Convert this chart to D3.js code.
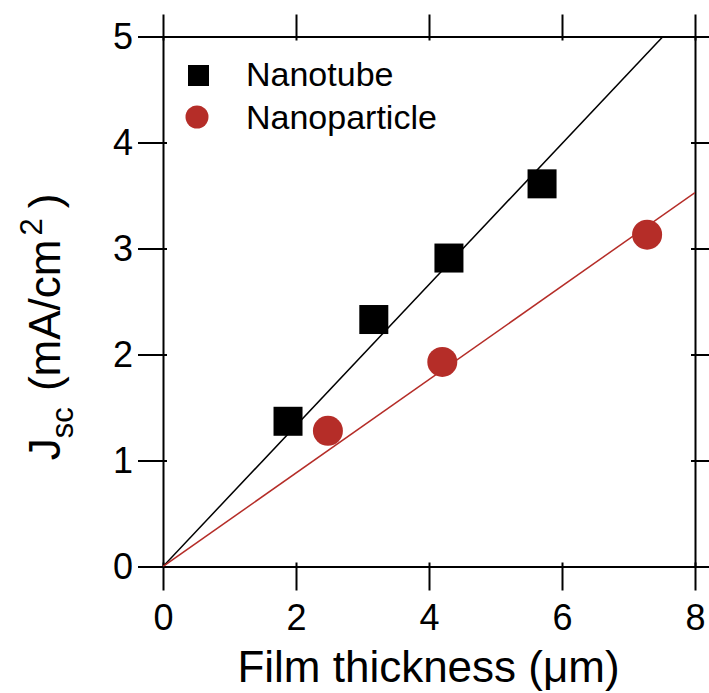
<!DOCTYPE html>
<html><head><meta charset="utf-8">
<script src="https://cdn.jsdelivr.net/npm/d3@7"></script>
<style>
body{margin:0;background:#fff;}
text{font-family:"Liberation Sans",Arial,Helvetica,sans-serif;fill:#000;}
</style></head>
<body><svg id="c" width="709" height="693"></svg>
<script>
const seriesNames = ["Nanotube", "Nanoparticle"];
const seriesColors = ["#000000", "#b52d28"];
const nanotubeX = [1.88, 3.17, 4.30, 5.70];
const nanotubeY = [1.37, 2.33, 2.91, 3.61];
const nanoparticleX = [2.48, 4.20, 7.28];
const nanoparticleY = [1.28, 1.93, 3.13];
const fitSlopes = [0.665, 0.441];
const xTicks = [0, 2, 4, 6, 8];
const yTicks = [0, 1, 2, 3, 4, 5];
const xTitle = "Film thickness (\u03bcm)";

const svg = d3.select("#c");
const L = 163, R = 695, T = 36.5, B = 566.5;
const x = d3.scaleLinear().domain([0, 8]).range([L, R]);
const y = d3.scaleLinear().domain([0, 5]).range([B, T]);
const TS = 24, IN = 4;

svg.append("defs").append("clipPath").attr("id", "clip")
  .append("rect").attr("x", L).attr("y", T).attr("width", R - L).attr("height", B - T);

function styleAxis(g, inwardAttr, inwardSign) {
  g.select(".domain").attr("stroke", "#000").attr("stroke-width", 2);
  g.selectAll(".tick line").attr("stroke", "#000").attr("stroke-width", 2)
    .attr(inwardAttr, inwardSign * IN);
  g.selectAll("text").style("font-size", "36px").attr("fill", "#000");
}

// bottom
const gb = svg.append("g").attr("transform", `translate(0,${B})`)
  .call(d3.axisBottom(x).tickValues(xTicks).tickSize(TS).tickSizeOuter(0).tickPadding(14).tickFormat(d3.format("d")));
styleAxis(gb, "y1", -1);
// top
const gt = svg.append("g").attr("transform", `translate(0,${T})`)
  .call(d3.axisTop(x).tickValues(xTicks).tickSize(TS - 2).tickSizeOuter(0).tickFormat(""));
styleAxis(gt, "y1", 1);
// left
const gl = svg.append("g").attr("transform", `translate(${L},0)`)
  .call(d3.axisLeft(y).tickValues(yTicks).tickSize(TS + 1).tickSizeOuter(0).tickPadding(5).tickFormat(d3.format("d")));
styleAxis(gl, "x1", 1);
// right
const gr = svg.append("g").attr("transform", `translate(${R},0)`)
  .call(d3.axisRight(y).tickValues(yTicks).tickSize(TS + 1).tickSizeOuter(0).tickFormat(""));
styleAxis(gr, "x1", -1);

// fit lines
const plot = svg.append("g").attr("clip-path", "url(#clip)");
fitSlopes.forEach((s, i) => {
  plot.append("line")
    .attr("x1", x(0)).attr("y1", y(0))
    .attr("x2", x(8)).attr("y2", y(8 * s))
    .attr("stroke", seriesColors[i]).attr("stroke-width", 1.5);
});

// markers
const SQ = 29, CR = 15;
svg.append("g").selectAll("rect").data(nanotubeX.map((v, i) => [v, nanotubeY[i]]))
  .join("rect")
  .attr("x", d => x(d[0]) - SQ / 2).attr("y", d => y(d[1]) - SQ / 2)
  .attr("width", SQ).attr("height", SQ).attr("fill", seriesColors[0]);
svg.append("g").selectAll("circle").data(nanoparticleX.map((v, i) => [v, nanoparticleY[i]]))
  .join("circle")
  .attr("cx", d => x(d[0])).attr("cy", d => y(d[1])).attr("r", CR)
  .attr("fill", seriesColors[1]);

// legend
const lg = svg.append("g");
lg.append("rect").attr("x", 188).attr("y", 65).attr("width", 21).attr("height", 21).attr("fill", seriesColors[0]);
lg.append("circle").attr("cx", 197).attr("cy", 117).attr("r", 11.5).attr("fill", seriesColors[1]);
lg.append("text").attr("x", 246).attr("y", 86).style("font-size", "34px").text(seriesNames[0]);
lg.append("text").attr("x", 246).attr("y", 129).style("font-size", "34px").text(seriesNames[1]);

// x title
svg.append("text").attr("x", (237 + 620) / 2).attr("y", 682).attr("text-anchor", "middle")
  .style("font-size", "44px").text(xTitle);

// y title
const yt = svg.append("text").attr("transform", "translate(60,327) rotate(-90)")
  .attr("text-anchor", "middle").style("font-size", "44px");
yt.append("tspan").text("J");
yt.append("tspan").attr("dy", 13).style("font-size", "31px").text("sc");
yt.append("tspan").attr("dy", -13).attr("dx", 4).text("\u00a0(mA/cm");
yt.append("tspan").attr("dy", -18).attr("dx", 4).style("font-size", "31px").text("2");
yt.append("tspan").attr("dy", 18).attr("dx", 10).text(")");
</script></body></html>
